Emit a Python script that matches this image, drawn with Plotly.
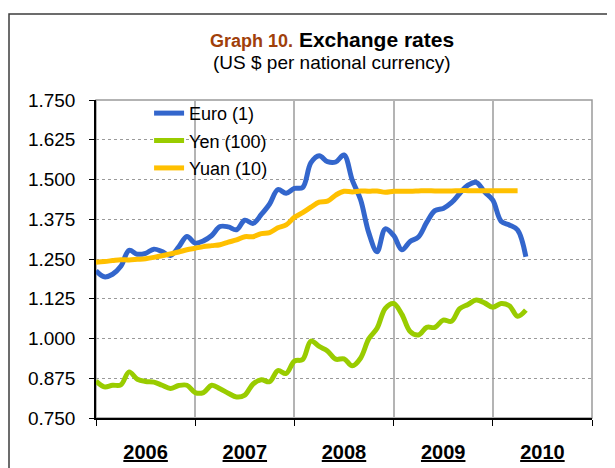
import plotly.graph_objects as go

# ---- data (monthly, Jan 2006 onwards) ----
years = ["2006", "2007", "2008", "2009", "2010"]
months_per_year = 12

euro = [1.213, 1.194, 1.202, 1.227, 1.277, 1.265, 1.268, 1.281, 1.273, 1.261, 1.288, 1.321,
        1.300, 1.307, 1.324, 1.352, 1.351, 1.342, 1.372, 1.362, 1.390, 1.423, 1.468, 1.457,
        1.472, 1.475, 1.553, 1.575, 1.556, 1.555, 1.577, 1.498, 1.437, 1.332, 1.273, 1.345,
        1.324, 1.279, 1.305, 1.319, 1.365, 1.402, 1.409, 1.427, 1.456, 1.482, 1.491, 1.461,
        1.435, 1.369, 1.357, 1.341, 1.257]

yen = [0.866, 0.848, 0.853, 0.854, 0.895, 0.872, 0.865, 0.863, 0.853, 0.843, 0.852, 0.853,
       0.830, 0.830, 0.853, 0.842, 0.828, 0.816, 0.822, 0.857, 0.870, 0.864, 0.899, 0.890,
       0.929, 0.934, 0.992, 0.975, 0.961, 0.935, 0.936, 0.914, 0.938, 0.999, 1.032, 1.095,
       1.110, 1.076, 1.022, 1.011, 1.035, 1.035, 1.058, 1.054, 1.094, 1.107, 1.121, 1.112,
       1.098, 1.110, 1.103, 1.070, 1.089]

yuan = [1.240, 1.242, 1.245, 1.248, 1.247, 1.249, 1.251, 1.255, 1.260, 1.266, 1.272, 1.279,
        1.284, 1.289, 1.292, 1.295, 1.303, 1.310, 1.320, 1.320, 1.330, 1.333, 1.348, 1.357,
        1.381, 1.396, 1.413, 1.429, 1.432, 1.451, 1.463, 1.461, 1.464, 1.463, 1.464, 1.460,
        1.463, 1.463, 1.463, 1.464, 1.465, 1.464, 1.464, 1.464, 1.465, 1.465, 1.465, 1.465,
        1.465, 1.465, 1.465, 1.465]

series_names = ["Euro (1)", "Yen (100)", "Yuan (10)"]
y_ticks = [0.750, 0.875, 1.000, 1.125, 1.250, 1.375, 1.500, 1.625, 1.750]

title_main = "Exchange rates"
title_prefix = "Graph 10."
subtitle = "(US $ per national currency)"

# ---- figure ----
FONT = "Liberation Sans, Arial, sans-serif"
colors = ["#3366CC", "#99CC00", "#FFC000"]

fig = go.Figure()
for name, vals, col in zip(series_names, [euro, yen, yuan], colors):
    fig.add_trace(go.Scatter(
        x=list(range(len(vals))), y=vals, name=name, mode="lines",
        legendgroup=name,
        line=dict(color=col, width=5, shape="spline", smoothing=1.0),
        xaxis="x", yaxis="y"))

n_total = months_per_year * len(years)
boundaries = [i * months_per_year for i in range(len(years) + 1)]
mids = [i * months_per_year + months_per_year / 2 for i in range(len(years))]

# invisible trace to carry the year-label axis
fig.add_trace(go.Scatter(x=[], y=[], xaxis="x2", yaxis="y", showlegend=False))

fig.update_layout(
    width=607, height=460,
    margin=dict(l=88, r=23, t=92, b=50, autoexpand=False),
    paper_bgcolor="white", plot_bgcolor="white",
    font=dict(family=FONT, color="black"),
    showlegend=True,
    legend=dict(x=0.107, y=1.016, xanchor="left", yanchor="top",
                bgcolor="rgba(0,0,0,0)", font=dict(size=18, family=FONT),
                traceorder="grouped", tracegroupgap=1),
    xaxis=dict(range=[0, n_total], tickvals=boundaries, showticklabels=False,
               ticks="outside", ticklen=6, tickcolor="black", tickwidth=1,
               showgrid=True, gridcolor="#b4b4b4", gridwidth=1.5, automargin=False,
               showline=True, linecolor="black", linewidth=1.5, zeroline=False),
    xaxis2=dict(range=[0, n_total], overlaying="x", anchor="y", side="bottom",
                tickvals=mids, ticktext=[f"<b><u>{y}</u></b>" for y in years],
                ticks="outside", ticklen=16, tickcolor="rgba(0,0,0,0)", automargin=False,
                showgrid=False, showline=False, zeroline=False,
                tickfont=dict(size=20, family=FONT, color="black")),
    yaxis=dict(range=[0.75, 1.75], tickvals=y_ticks,
               ticktext=[f"{v:.3f}" for v in y_ticks],
               ticks="outside", ticklen=5, tickcolor="black", tickwidth=1,
               ticklabelstandoff=10, automargin=False,
               showgrid=True, gridcolor="#9a9a9a", gridwidth=1, griddash="dot",
               showline=True, linecolor="black", linewidth=1.5, zeroline=False,
               tickfont=dict(size=19, family=FONT, color="black")),
    shapes=[
        dict(type="rect", xref="paper", yref="paper", x0=0, x1=1, y0=0, y1=1,
             line=dict(color="#9a9a9a", width=1.5), layer="below"),
        dict(type="rect", xref="paper", yref="paper", x0=-0.1754, x1=1.2,
             y0=-0.3, y1=1.2704, line=dict(color="#3c3c3c", width=1.5), layer="below"),
    ],
    annotations=[
        dict(xref="paper", yref="paper", x=0.476, y=1.1887, xanchor="center", yanchor="middle",
             showarrow=False,
             text=f"<span style='color:#A0400A;font-size:18px'><b>{title_prefix}</b></span> <b>{title_main}</b>",
             font=dict(size=21, family=FONT, color="black")),
        dict(xref="paper", yref="paper", x=0.476, y=1.118, xanchor="center", yanchor="middle",
             showarrow=False, text=subtitle,
             font=dict(size=19, family=FONT, color="black")),
    ],
)

fig.write_html("out.html")
